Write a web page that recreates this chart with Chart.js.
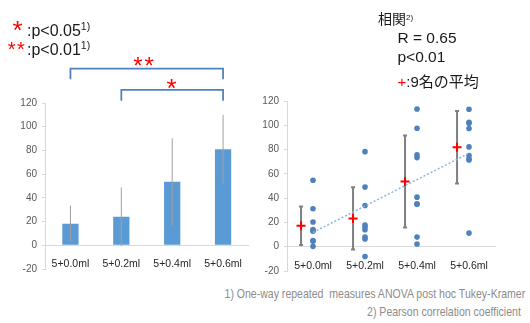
<!DOCTYPE html>
<html>
<head>
<meta charset="utf-8">
<script src="https://cdn.jsdelivr.net/npm/chart.js@4"></script>
<style>
  html, body { margin: 0; padding: 0; background: #fff; }
  body { width: 530px; height: 323px; position: relative; overflow: hidden;
         font-family: "Liberation Sans", Arial, "Noto Sans CJK JP", sans-serif; color: #1a1a1a; }
  canvas { position: absolute; top: 0; }
  .abs { position: absolute; white-space: pre; }
  .red { color: #ff0000; }
  .star { position: absolute; line-height: 1; color: #ff0000; transform: translateX(-50%); white-space: nowrap; }
  .sup { font-size: 10.5px; vertical-align: 6px; }
  .note { font-size: 13px; line-height: 16px; color: #8c8c8c;
          transform: scaleX(0.81); transform-origin: right center; }
</style>
</head>
<body>
<canvas id="barChart" width="260" height="280" style="left:0px"></canvas>
<canvas id="dotChart" width="260" height="283" style="left:250px"></canvas>

<!-- significance legend, left -->
<div class="star" style="left:17.5px; top:17px; font-size:26px;">*</div>
<div class="abs" style="left:27px; top:16.4px; font-size:16px; line-height:20px;">:p&lt;0.05<span class="sup">1)</span></div>
<div class="star" style="left:17px; top:38.5px; font-size:20px; letter-spacing:1.5px;">**</div>
<div class="abs" style="left:27px; top:35px; font-size:16px; line-height:20px;">:p&lt;0.01<span class="sup">1)</span></div>

<!-- stars over the brackets -->
<div class="star" style="left:144.5px; top:54.4px; font-size:24px; letter-spacing:2px;">**</div>
<div class="star" style="left:171.5px; top:75.3px; font-size:26px;">*</div>

<!-- correlation legend, right -->
<div class="abs" style="left:378px; top:8px; font-size:14px; line-height:20px;">相関<span style="font-size:8px; vertical-align:4px;">2)</span></div>
<div class="abs" style="left:397.5px; top:27.6px; font-size:15.5px; line-height:20px;">R = 0.65</div>
<div class="abs" style="left:397.5px; top:47.3px; font-size:15.5px; line-height:20px;">p&lt;0.01</div>
<div class="abs" style="left:397.5px; top:72.2px; font-size:15px; line-height:20px;"><span class="red">+</span>:9名の平均</div>

<!-- footnotes -->
<div class="abs note" style="right:5px; top:286px;">1) One-way repeated  measures ANOVA post hoc Tukey-Kramer</div>
<div class="abs note" style="right:9px; top:304px;">2) Pearson correlation coefficient</div>

<script>
const doses = ['5+0.0ml', '5+0.2ml', '5+0.4ml', '5+0.6ml'];

// left: mean +/- SD
const barMeans = [18.2, 24.1, 53.6, 81.0];
const barSd = [15.3, 24.6, 36.6, 29.0];

// right: the 9 subjects per dose
const subjects00 = [54.7, 31.3, 20.3, 14.2, 13.2, 13.0, 5.1, 4.5, 0.3];
const subjects02 = [78.3, 49.1, 33.9, 17.8, 16.2, 14.0, 8.0, 6.3, -8.0];
const subjects04 = [113.4, 97.5, 75.6, 73.4, 40.8, 35.3, 35.0, 7.9, 2.2];
const subjects06 = [113.2, 102.5, 101.6, 97.3, 82.2, 75.1, 72.3, 71.5, 11.2];
const dotMeans = [17.3, 23.3, 53.7, 81.9];
const dotSd = [15.9, 25.6, 37.9, 29.9];
const trendY = [11.8, 77.0];   // regression line at first and last dose

const bracketPairs = [[0, 3], [1, 3]];
const bracketLevels = [149, 131];
const meanShift = -0.23;

function errorBars(xs, means, sd, color, width, cap, before) {
  const draw = chart => {
    const { ctx, scales: { x, y } } = chart;
    ctx.save();
    ctx.strokeStyle = color;
    ctx.lineWidth = width;
    means.forEach((m, i) => {
      const px = x.getPixelForValue(xs[i]);
      const top = y.getPixelForValue(m + sd[i]);
      const bot = y.getPixelForValue(m - sd[i]);
      ctx.beginPath();
      ctx.moveTo(px, top);
      ctx.lineTo(px, bot);
      if (cap) {
        ctx.moveTo(px - cap, top); ctx.lineTo(px + cap, top);
        ctx.moveTo(px - cap, bot); ctx.lineTo(px + cap, bot);
      }
      ctx.stroke();
    });
    ctx.restore();
  };
  return before ? { id: 'errBefore', beforeDatasetsDraw: draw } : { id: 'errAfter', afterDatasetsDraw: draw };
}

const bracketPlugin = {
  id: 'brackets',
  afterDatasetsDraw(chart) {
    const { ctx, scales: { x, y } } = chart;
    ctx.save();
    ctx.strokeStyle = '#4f81bd';
    ctx.lineWidth = 1.75;
    bracketPairs.forEach((p, i) => {
      const x1 = x.getPixelForValue(p[0]);
      const x2 = x.getPixelForValue(p[1]);
      const yTop = y.getPixelForValue(bracketLevels[i]);
      const yEnd = y.getPixelForValue(bracketLevels[i] - 9);
      ctx.beginPath();
      ctx.moveTo(x1, yEnd);
      ctx.lineTo(x1, yTop);
      ctx.lineTo(x2, yTop);
      ctx.lineTo(x2, yEnd);
      ctx.stroke();
    });
    ctx.restore();
  }
};

function yScale(width) {
  return {
    min: -20, max: 120,
    ticks: { stepSize: 20, padding: 5, color: '#595959', font: { size: 10 } },
    grid: { drawOnChartArea: false, tickLength: 3, color: '#d9d9d9' },
    border: { color: '#d9d9d9' },
    afterFit: s => { s.width = width; }
  };
}

Chart.defaults.font.family = '"Liberation Sans", Arial, sans-serif';

new Chart(document.getElementById('barChart'), {
  type: 'bar',
  data: {
    labels: doses,
    datasets: [{
      data: barMeans,
      backgroundColor: '#5b9bd5',
      barPercentage: 0.32,
      categoryPercentage: 1
    }]
  },
  options: {
    responsive: false,
    animation: false,
    layout: { padding: { top: 103, bottom: 10, left: 0, right: 11.5 } },
    plugins: { legend: { display: false }, tooltip: { enabled: false } },
    scales: {
      x: {
        position: { y: 0 },
        grid: { display: false, drawTicks: false },
        border: { color: '#d9d9d9' },
        ticks: { padding: 13, color: '#262626', font: { size: 10.5 } }
      },
      y: yScale(45)
    }
  },
  plugins: [errorBars([0, 1, 2, 3], barMeans, barSd, '#a0a0a0', 1, 0, false), bracketPlugin]
});

const dotPoints = [subjects00, subjects02, subjects04, subjects06]
  .flatMap((vals, i) => vals.map(v => ({ x: i + 1, y: v })));
const meanPoints = dotMeans.map((m, i) => ({ x: i + 1 + meanShift, y: m }));
const trendPoints = [{ x: 1, y: trendY[0] }, { x: 4, y: trendY[1] }];

new Chart(document.getElementById('dotChart'), {
  type: 'scatter',
  data: {
    datasets: [
      {
        type: 'line',
        data: trendPoints,
        borderColor: '#8db4e2',
        borderWidth: 1.5,
        borderDash: [2, 2],
        pointRadius: 0,
        fill: false
      },
      {
        data: dotPoints,
        backgroundColor: '#4f81bd',
        borderColor: '#4f81bd',
        pointRadius: 2.8,
        borderWidth: 0
      },
      {
        data: meanPoints,
        pointStyle: 'cross',
        pointRadius: 4.5,
        borderColor: '#ff0000',
        borderWidth: 2
      }
    ]
  },
  options: {
    responsive: false,
    animation: false,
    layout: { padding: { top: 101, bottom: 12, left: 0, right: 15 } },
    plugins: { legend: { display: false }, tooltip: { enabled: false } },
    scales: {
      x: {
        type: 'linear',
        min: 0.5, max: 4.5,
        position: { y: 0 },
        afterBuildTicks: s => { s.ticks = doses.map((d, i) => ({ value: i + 1 })); },
        grid: { display: false, drawTicks: false },
        border: { color: '#d9d9d9' },
        ticks: { padding: 13, color: '#262626', font: { size: 10.5 },
                 callback: v => doses[v - 1] }
      },
      y: yScale(37)
    }
  },
  plugins: [errorBars([1, 2, 3, 4].map(v => v + meanShift), dotMeans, dotSd, '#808080', 2, 2, true)]
});
</script>
</body>
</html>
